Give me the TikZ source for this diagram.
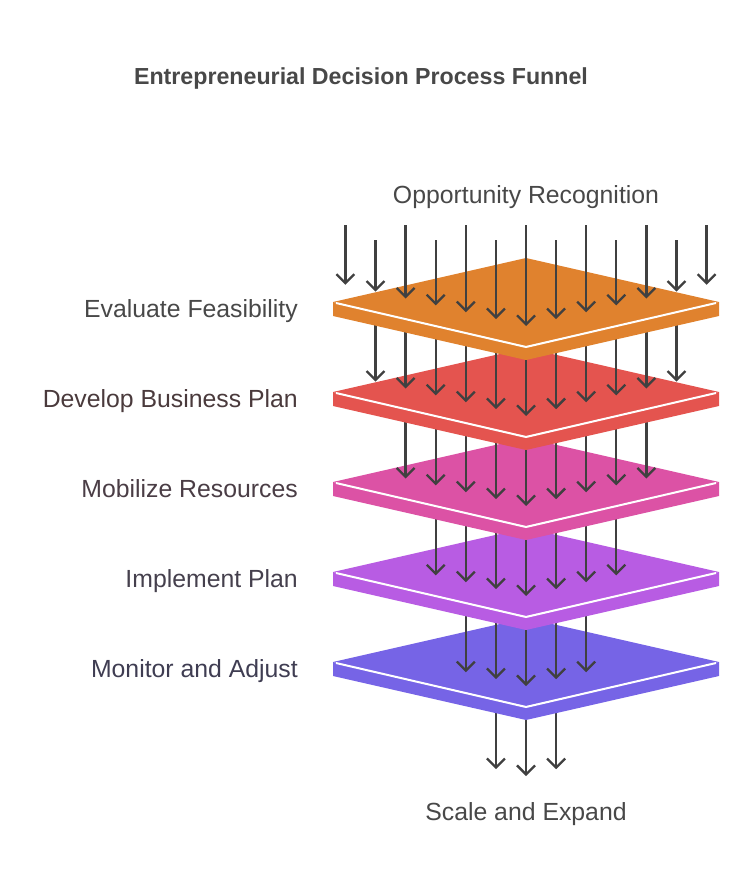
\documentclass[tikz,border=0pt]{standalone}
\usepackage{fontspec}
\setmainfont{Liberation Sans}
\usetikzlibrary{arrows.meta}

\definecolor{orangeplate}{HTML}{E0822E}
\definecolor{redplate}{HTML}{E4544F}
\definecolor{pinkplate}{HTML}{DC52A5}
\definecolor{purpleplate}{HTML}{B85CE3}
\definecolor{blueplate}{HTML}{7664E6}
\definecolor{arrowgray}{HTML}{404040}
\definecolor{textgray}{HTML}{484848}

\tikzset{
  flowarrow/.style={arrowgray,line width=2.3pt,-{Straight Barb[length=9pt,width=18pt]}},
  stagelabel/.style={anchor=base east,inner sep=0pt,font=\fontsize{24.8}{30}\selectfont},
}

% one plate: #1 = y of the left corner, #2 = colour
\newcommand{\plate}[2]{%
  \fill[#2] (333,#1) -- (526,#1+44) -- (719,#1) -- (719,#1+14) -- (526,#1+58) -- (333,#1+14) -- cycle;
  \fill[#2] (333,#1) -- (526,#1-44) -- (719,#1) -- (526,#1+44) -- cycle;
  \draw[white,line width=2pt] (336,#1+1) -- (526,#1+45) -- (716,#1+1);
}

% arrows landing on a plate: #1 = arrows each side, #2 = y of that plate's left corner
\newcommand{\flow}[2]{%
  \foreach \j in {-#1,...,#1} {
    \pgfmathsetmacro{\xx}{526+30.1*\j}
    \pgfmathsetmacro{\tip}{#2+24-44*abs(30.1*\j)/193}
    \draw[flowarrow] (\xx,#2-80) -- (\xx,\tip);
  }
}

\begin{document}
\begin{tikzpicture}[x=1pt,y=-1pt]
\useasboundingbox (0,0) rectangle (753,888);

% Title
\node[anchor=base,inner sep=0pt,textgray,font=\fontsize{23.2}{28}\selectfont\bfseries] (title) at (361,85) {Entrepreneurial Decision Process Funnel};

% Plates, from the bottom up, with the arrows landing on each
\flow{1}{752}
\plate{662}{blueplate}
\flow{2}{662}
\plate{572}{purpleplate}
\flow{3}{572}
\plate{482}{pinkplate}
\flow{4}{482}
\plate{392}{redplate}
\flow{5}{392}
\plate{302}{orangeplate}

% Incoming arrows
\foreach \j in {-6,...,6} {
  \pgfmathsetmacro{\xx}{526+30.1*\j}
  \pgfmathsetmacro{\top}{225+15*mod(abs(\j),2)}
  \pgfmathsetmacro{\tip}{302+24-44*abs(30.1*\j)/193}
  \draw[flowarrow] (\xx,\top) -- (\xx,\tip);
}

% Labels
\node[stagelabel,anchor=base,textgray] (opp) at (526,203) {Opportunity Recognition};
\node[stagelabel,textgray] (feas) at (298,317) {Evaluate Feasibility};
\node[stagelabel,color={rgb,255:red,74;green,58;blue,60}] (plan) at (298,407) {Develop Business Plan};
\node[stagelabel,color={rgb,255:red,74;green,61;blue,69}] (mob) at (298,497) {Mobilize Resources};
\node[stagelabel,color={rgb,255:red,69;green,64;blue,77}] (impl) at (298,587) {Implement Plan};
\node[stagelabel,color={rgb,255:red,63;green,61;blue,82}] (mon) at (298,677) {Monitor and Adjust};
\node[stagelabel,anchor=base,textgray] (scale) at (526,820) {Scale and Expand};
\end{tikzpicture}
\end{document}
